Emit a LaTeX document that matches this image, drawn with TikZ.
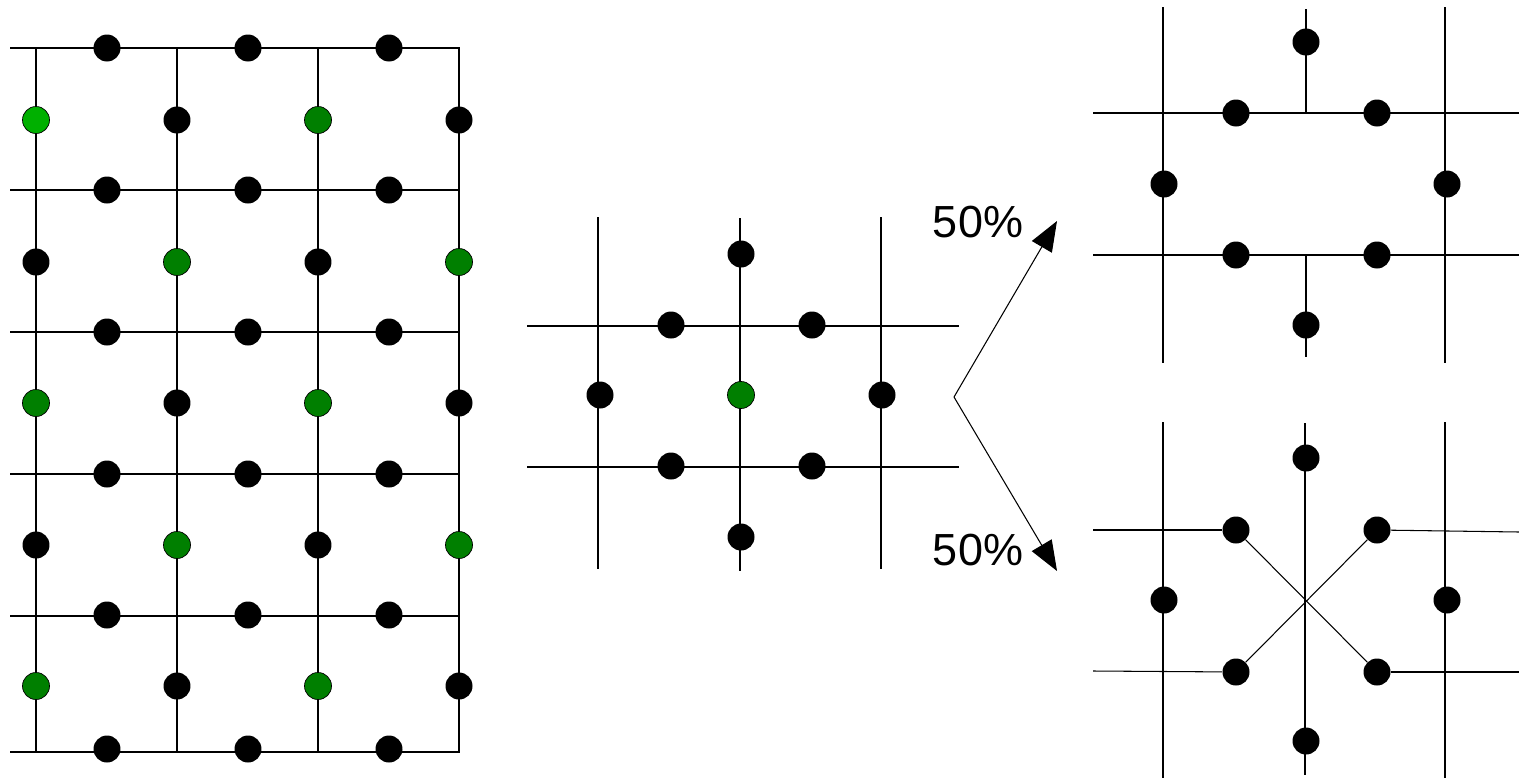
\documentclass[tikz,border=0pt]{standalone}
\usepackage{fontspec}
\setmainfont{Liberation Sans}
\usepackage{tikz}
\usetikzlibrary{arrows.meta}
\definecolor{litegreen}{HTML}{00B000}
\definecolor{deepgreen}{HTML}{007F00}
\tikzset{dot/.style = {circle, fill=black, inner sep=0pt, minimum size=0.54cm}}
\tikzset{gdot/.style = {dot, draw=black, line width=0.4pt, fill=deepgreen}}
\tikzset{lattice/.style = {line width=0.6pt}}
\tikzset{branch/.style = {line width=0.6pt, -{Triangle[length=0.6cm, width=0.46cm]}}}
\tikzset{pct/.style = {inner sep=0pt, font=\fontsize{25.6}{30}\selectfont}}

\begin{document}
\begin{tikzpicture}[x=0.02cm, y=-0.02cm]
    \useasboundingbox (0,0) rectangle (1519,778);

    % left lattice
    \foreach \x in {36,177,318,459}
        \draw[lattice] (\x,48) -- (\x,752);
    \foreach \y in {48,190,332,474,616,752}
        \draw[lattice] (10,\y) -- (460,\y);
    \foreach \y [count=\r] in {48,190,332,474,615,749}
        \foreach \x [count=\c] in {107,248,389}
            \node[dot] (h\r\c) at (\x,\y) {};

    \node[gdot, fill=litegreen] (v11) at (36,120) {};
    \node[dot]  (v12) at (177,120) {};
    \node[gdot] (v13) at (318,120) {};
    \node[dot]  (v14) at (459,120) {};

    \node[dot]  (v21) at (36,262) {};
    \node[gdot] (v22) at (177,262) {};
    \node[dot]  (v23) at (318,262) {};
    \node[gdot] (v24) at (459,262) {};

    \node[gdot] (v31) at (36,403) {};
    \node[dot]  (v32) at (177,403) {};
    \node[gdot] (v33) at (318,403) {};
    \node[dot]  (v34) at (459,403) {};

    \node[dot]  (v41) at (36,545) {};
    \node[gdot] (v42) at (177,545) {};
    \node[dot]  (v43) at (318,545) {};
    \node[gdot] (v44) at (459,545) {};

    \node[gdot] (v51) at (36,686) {};
    \node[dot]  (v52) at (177,686) {};
    \node[gdot] (v53) at (318,686) {};
    \node[dot]  (v54) at (459,686) {};

    % middle cell
    \draw[lattice] (598,217) -- (598,569);
    \draw[lattice] (740,218) -- (740,571);
    \draw[lattice] (881,217) -- (881,569);
    \draw[lattice] (527,326) -- (959,326);
    \draw[lattice] (527,467) -- (959,467);

    \node[dot]  (m1) at (741,254) {};
    \node[dot]  (m2) at (671,325) {};
    \node[dot]  (m3) at (812,325) {};
    \node[dot]  (m4) at (600,395) {};
    \node[gdot] (m5) at (741,395) {};
    \node[dot]  (m6) at (882,395) {};
    \node[dot]  (m7) at (671,466) {};
    \node[dot]  (m8) at (812,466) {};
    \node[dot]  (m9) at (741,537) {};

    % branching
    \coordinate (fork) at (954,397);
    \coordinate (up)   at (1057,221);
    \coordinate (down) at (1057,571);
    \draw[branch] (fork) -- (up);
    \draw[branch] (fork) -- (down);
    \node[pct] (pup)   at (978,222) {50\%};
    \node[pct] (pdown) at (978,550) {50\%};

    % upper result
    \draw[lattice] (1163,7) -- (1163,363);
    \draw[lattice] (1445,7) -- (1445,363);
    \draw[lattice] (1093,113) -- (1519,113);
    \draw[lattice] (1093,255) -- (1519,255);
    \draw[lattice] (1306,9) -- (1306,113);
    \draw[lattice] (1306,255) -- (1306,357);

    \node[dot] (a1) at (1306,42) {};
    \node[dot] (a2) at (1236,113) {};
    \node[dot] (a3) at (1377,113) {};
    \node[dot] (a4) at (1164,184) {};
    \node[dot] (a5) at (1447,184) {};
    \node[dot] (a6) at (1236,255) {};
    \node[dot] (a7) at (1377,255) {};
    \node[dot] (a8) at (1306,325) {};

    % lower result
    \draw[lattice] (1163,422) -- (1163,778);
    \draw[lattice] (1445,422) -- (1445,778);
    \draw[lattice] (1305,423) -- (1305,775);

    \node[dot] (b1) at (1306,458) {};
    \node[dot] (b2) at (1236,530) {};
    \node[dot] (b3) at (1377,530) {};
    \node[dot] (b4) at (1164,600) {};
    \node[dot] (b5) at (1447,600) {};
    \node[dot] (b6) at (1236,672) {};
    \node[dot] (b7) at (1377,672) {};
    \node[dot] (b8) at (1306,741) {};

    \coordinate (bl1) at (1093,530);
    \coordinate (br1) at (1519,532);
    \coordinate (bl2) at (1093,671);
    \coordinate (br2) at (1519,672);
    \draw[lattice] (bl1) -- (b2);
    \draw[lattice] (b3) -- (br1);
    \draw[lattice] (bl2) -- (b6);
    \draw[lattice] (b7) -- (br2);
    \draw[lattice] (b2) -- (b7);
    \draw[lattice] (b3) -- (b6);
\end{tikzpicture}
\end{document}
